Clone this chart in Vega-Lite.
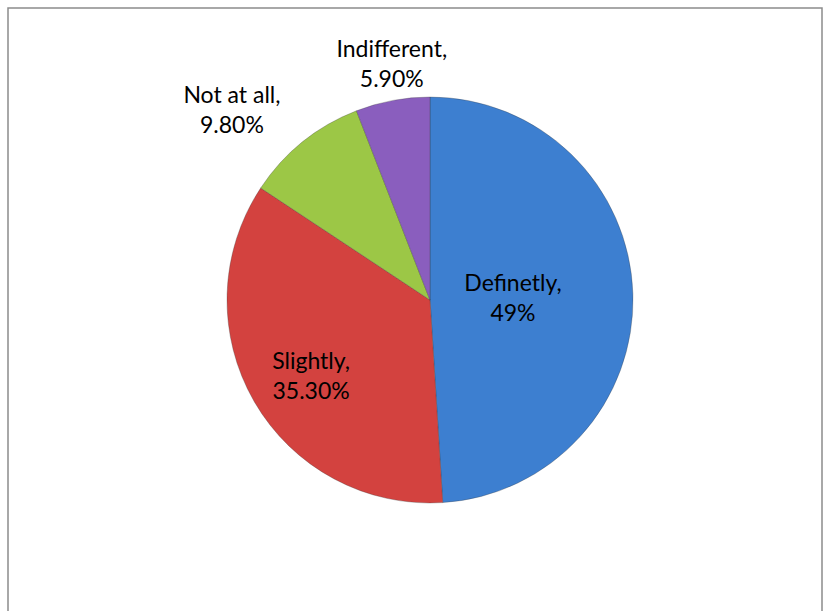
{
  "$schema": "https://vega.github.io/schema/vega-lite/v6.json",
  "width": 814,
  "height": 700,
  "padding": {"left": 8, "top": 8, "right": 5, "bottom": 0},
  "autosize": {"type": "none"},
  "background": "white",
  "config": {"view": {"stroke": "#8c8c8c", "strokeWidth": 1.5}},
  "data": {"values": [
    {"cat": "Definetly", "idx": 1, "share": 49.0, "label": "Definetly,\n49%"},
    {"cat": "Slightly", "idx": 2, "share": 35.3, "label": "Slightly,\n35.30%"},
    {"cat": "Not at all", "idx": 3, "share": 9.8, "label": "Not at all,\n9.80%"},
    {"cat": "Indifferent", "idx": 4, "share": 5.9, "label": "Indifferent,\n5.90%"}
  ]},
  "layer": [
    {
      "mark": {"type": "point", "opacity": 0},
      "encoding": {
        "x": {"datum": 0, "type": "quantitative", "axis": null},
        "y": {"datum": 0, "type": "quantitative", "axis": null}
      }
    },
    {
      "mark": {"type": "arc", "outerRadius": 203, "x": {"expr": "width/2+15"}, "y": {"expr": "292"}, "stroke": "#3a3a3a", "strokeWidth": 0.6, "strokeOpacity": 0.5},
      "encoding": {
        "theta": {"field": "share", "type": "quantitative", "stack": true},
        "order": {"field": "idx", "type": "quantitative"},
        "color": {"field": "cat", "type": "nominal", "legend": null,
          "scale": {"domain": ["Definetly", "Slightly", "Not at all", "Indifferent"], "range": ["#3D7FD0", "#D3423F", "#9CC746", "#8A5EBE"]}}
      }
    },
    {
      "mark": {"type": "text", "radius": 83, "dy": -13, "x": {"expr": "width/2+15"}, "y": {"expr": "292"}, "lineBreak": "\n", "font": "Lato", "fontSize": 23, "align": "center", "baseline": "middle", "lineHeight": 30, "color": "#000"},
      "encoding": {
        "theta": {"field": "share", "type": "quantitative", "stack": true},
        "order": {"field": "idx", "type": "quantitative"},
        "text": {"condition": {"test": "datum.cat == 'Definetly'", "field": "label"}, "value": ""}}
    },
    {
      "mark": {"type": "text", "radius": 142, "dx": 4, "dy": -9, "x": {"expr": "width/2+15"}, "y": {"expr": "292"}, "lineBreak": "\n", "font": "Lato", "fontSize": 23, "align": "center", "baseline": "middle", "lineHeight": 30, "color": "#000"},
      "encoding": {
        "theta": {"field": "share", "type": "quantitative", "stack": true},
        "order": {"field": "idx", "type": "quantitative"},
        "text": {"condition": {"test": "datum.cat == 'Slightly'", "field": "label"}, "value": ""}}
    },
    {
      "mark": {"type": "text", "radius": 255, "dx": -38, "dy": -5, "x": {"expr": "width/2+15"}, "y": {"expr": "292"}, "lineBreak": "\n", "font": "Lato", "fontSize": 23, "align": "center", "baseline": "middle", "lineHeight": 30, "color": "#000"},
      "encoding": {
        "theta": {"field": "share", "type": "quantitative", "stack": true},
        "order": {"field": "idx", "type": "quantitative"},
        "text": {"condition": {"test": "datum.cat == 'Not at all'", "field": "label"}, "value": ""}}
    },
    {
      "mark": {"type": "text", "radius": 240, "dx": 6, "dy": -14, "x": {"expr": "width/2+15"}, "y": {"expr": "292"}, "lineBreak": "\n", "font": "Lato", "fontSize": 23, "align": "center", "baseline": "middle", "lineHeight": 30, "color": "#000"},
      "encoding": {
        "theta": {"field": "share", "type": "quantitative", "stack": true},
        "order": {"field": "idx", "type": "quantitative"},
        "text": {"condition": {"test": "datum.cat == 'Indifferent'", "field": "label"}, "value": ""}}
    }
  ]
}
